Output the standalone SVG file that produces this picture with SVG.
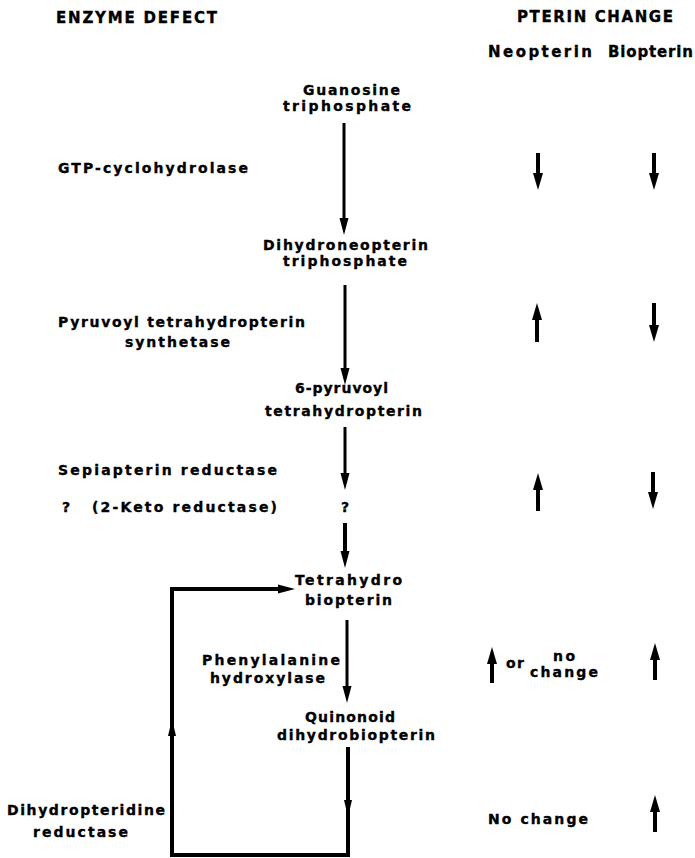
<svg xmlns="http://www.w3.org/2000/svg" width="695" height="858" viewBox="0 0 695 858">
<style>
text{font-family:"DejaVu Sans","Liberation Sans",Arial,sans-serif;font-weight:bold;fill:#000;stroke:#000;stroke-width:0.35;font-size:14px}
.h{font-size:15px}
.main{stroke:#000;stroke-width:3;fill:none}
.col{stroke:#000;stroke-width:4;fill:none}
.loop{stroke:#000;stroke-width:4;fill:none}
</style>
<defs>
<marker id="ah" markerUnits="userSpaceOnUse" orient="auto" refX="5" refY="0" overflow="visible"><path d="M0,-4.5 L17,0 L0,4.5 Z" fill="#000"/></marker>
<marker id="ac" markerUnits="userSpaceOnUse" orient="auto" refX="3" refY="0" overflow="visible"><path d="M0,-5 L17,0 L0,5 Z" fill="#000"/></marker>
</defs>
<rect width="695" height="858" fill="#fff"/>
<g id="headers">
<text class="h" x="56" y="23" textLength="161" lengthAdjust="spacing">ENZYME DEFECT</text>
<text class="h" x="517" y="22" textLength="156" lengthAdjust="spacing">PTERIN CHANGE</text>
<text class="h" x="488" y="57" textLength="104" lengthAdjust="spacing">Neopterin</text>
<text class="h" x="608" y="57" textLength="85" lengthAdjust="spacing">Biopterin</text>
</g>
<g id="gtp">
<text x="303" y="95" textLength="97" lengthAdjust="spacing">Guanosine</text>
<text x="283" y="111" textLength="128" lengthAdjust="spacing">triphosphate</text>
</g>
<g id="dhnp">
<text x="263" y="250" textLength="165" lengthAdjust="spacing">Dihydroneopterin</text>
<text x="283" y="266" textLength="124" lengthAdjust="spacing">triphosphate</text>
</g>
<g id="pyruvoyl">
<text x="295" y="393" textLength="93" lengthAdjust="spacing">6-pyruvoyl</text>
<text x="265" y="416" textLength="157" lengthAdjust="spacing">tetrahydropterin</text>
</g>
<g id="unknown">
<text x="345" y="512" text-anchor="middle">?</text>
</g>
<g id="bh4">
<text x="295" y="585" textLength="107" lengthAdjust="spacing">Tetrahydro</text>
<text x="305" y="605" textLength="87" lengthAdjust="spacing">biopterin</text>
</g>
<g id="qdhb">
<text x="305" y="722" textLength="90" lengthAdjust="spacing">Quinonoid</text>
<text x="277" y="740" textLength="158" lengthAdjust="spacing">dihydrobiopterin</text>
</g>
<g id="enzymes">
<text x="58" y="173" textLength="190" lengthAdjust="spacing">GTP-cyclohydrolase</text>
<text x="58" y="327" textLength="247" lengthAdjust="spacing">Pyruvoyl tetrahydropterin</text>
<text x="125" y="347" textLength="105" lengthAdjust="spacing">synthetase</text>
<text x="58" y="475" textLength="219" lengthAdjust="spacing">Sepiapterin reductase</text>
<text x="62" y="512">?</text>
<text x="92" y="512" textLength="185" lengthAdjust="spacing">(2-Keto reductase)</text>
<text x="202" y="665" textLength="138" lengthAdjust="spacing">Phenylalanine</text>
<text x="210" y="683" textLength="115" lengthAdjust="spacing">hydroxylase</text>
<text x="7" y="815" textLength="158" lengthAdjust="spacing">Dihydropteridine</text>
<text x="33" y="837" textLength="95" lengthAdjust="spacing">reductase</text>
</g>
<g id="changes">
<text x="506" y="668" textLength="18" lengthAdjust="spacing">or</text>
<text x="553" y="661" textLength="22" lengthAdjust="spacing">no</text>
<text x="530" y="677" textLength="68" lengthAdjust="spacing">change</text>
<text x="488" y="824" textLength="100" lengthAdjust="spacing">No change</text>
</g>
<g id="connectors">
<line class="main" x1="344" y1="123" x2="344" y2="223" marker-end="url(#ah)"/>
<line class="main" x1="345" y1="285" x2="345" y2="373" marker-end="url(#ah)"/>
<line class="main" x1="345" y1="427" x2="345" y2="478" marker-end="url(#ah)"/>
<line class="col" x1="345" y1="523" x2="345" y2="556" marker-end="url(#ah)"/>
<line class="main" x1="347" y1="620" x2="347" y2="691" marker-end="url(#ah)"/>
<path class="loop" d="M348,747 L348,855 L172,855 L172,589 L283,589" marker-end="url(#ah)"/>
<polygon points="168,736 172,719 176,736" fill="#000"/>
<polygon points="344,800 348,817 352,800" fill="#000"/>
<line class="col" x1="538" y1="153" x2="538" y2="176" marker-end="url(#ac)"/>
<line class="col" x1="654" y1="153" x2="654" y2="176" marker-end="url(#ac)"/>
<line class="col" x1="537" y1="342" x2="537" y2="317" marker-end="url(#ac)"/>
<line class="col" x1="654" y1="303" x2="654" y2="328" marker-end="url(#ac)"/>
<line class="col" x1="538" y1="511" x2="538" y2="487" marker-end="url(#ac)"/>
<line class="col" x1="653" y1="472" x2="653" y2="495" marker-end="url(#ac)"/>
<line class="col" x1="492" y1="683" x2="492" y2="661" marker-end="url(#ac)"/>
<line class="col" x1="655" y1="680" x2="655" y2="657" marker-end="url(#ac)"/>
<line class="col" x1="655" y1="832" x2="655" y2="809" marker-end="url(#ac)"/>
</g>
</svg>
